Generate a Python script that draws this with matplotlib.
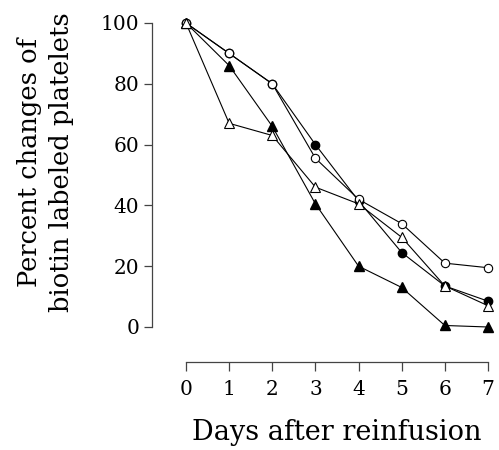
import matplotlib
matplotlib.use("Agg")
import matplotlib.pyplot as plt

days = [0, 1, 2, 3, 4, 5, 6, 7]
open_circle = [100, 90, 80, 55.5, 42, 34, 21, 19.5]
filled_circle = [100, 90, 80, 60, 41.5, 24.5, 13.5, 8.5]
open_triangle = [100, 67, 63, 46, 40.5, 29.5, 13.5, 7]
filled_triangle = [100, 86, 66, 40.5, 20, 13, 0.5, 0]

plt.rcParams["font.family"] = "DejaVu Serif"

fig = plt.figure(figsize=(4.99, 4.5), dpi=100)
ax = fig.add_axes([186 / 499, 1 - 327 / 450, 302 / 499, 304 / 450])

line_kw = dict(color="black", linewidth=0.8, clip_on=False)
ax.plot(days, filled_circle, marker="o", markersize=6, markerfacecolor="black",
        markeredgecolor="black", zorder=3, **line_kw)
ax.plot(days, filled_triangle, marker="^", markersize=7.5, markerfacecolor="black",
        markeredgecolor="black", zorder=3, **line_kw)
ax.plot(days, open_circle, marker="o", markersize=6, markerfacecolor="white",
        markeredgecolor="black", markeredgewidth=0.8, zorder=4, **line_kw)
ax.plot(days, open_triangle, marker="^", markersize=7.5, markerfacecolor="white",
        markeredgecolor="black", markeredgewidth=0.8, zorder=5, **line_kw)

ax.set_xlim(0, 7)
ax.set_ylim(0, 100)
ax.set_xticks(days)
ax.set_yticks([0, 20, 40, 60, 80, 100])

for side in ("top", "right"):
    ax.spines[side].set_visible(False)
ax.spines["left"].set_position(("outward", 24.5))
ax.spines["bottom"].set_position(("outward", 25))
ax.spines["left"].set_bounds(0, 100)
ax.spines["bottom"].set_bounds(0, 7)
for side in ("left", "bottom"):
    ax.spines[side].set_color("#444444")
    ax.spines[side].set_linewidth(0.9)

ax.tick_params(axis="y", length=6, width=0.9, color="#444444", pad=3, labelsize=14.5)
ax.tick_params(axis="x", length=6.5, width=0.9, color="#444444", pad=7, labelsize=14.5)

fig.text(0.092, 0.64, "Percent changes of\nbiotin labeled platelets", rotation=90,
         ha="center", va="center", multialignment="center", fontsize=18.5,
         linespacing=1.35)
fig.text(0.675, 0.04, "Days after reinfusion", ha="center", va="center", fontsize=19.5)

fig.savefig("out.png", dpi=100)
